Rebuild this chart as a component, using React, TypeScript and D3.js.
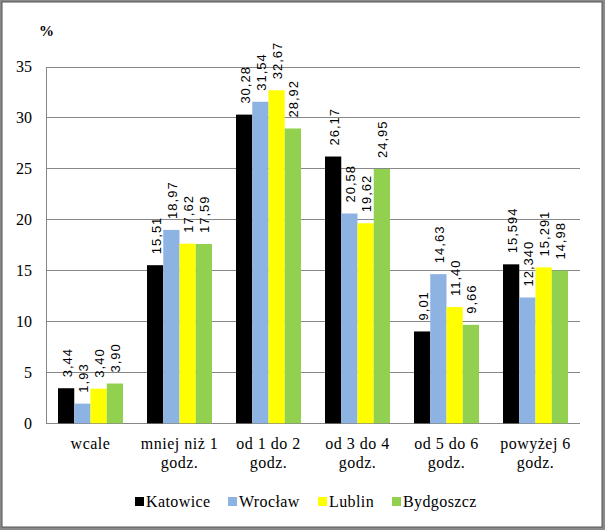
import React from "react";
import * as d3 from "d3";

const categories = [["wcale"], ["mniej niż 1", "godz."], ["od 1 do 2", "godz."], ["od 3 do 4", "godz."], ["od 5 do 6", "godz."], ["powyżej 6", "godz."]];
const seriesNames = ["Katowice", "Wrocław", "Lublin", "Bydgoszcz"];
const seriesColors = ["#000000", "#8DB3E2", "#FFFF00", "#92D050"];
const katowice = ["3,44", "15,51", "30,28", "26,17", "9,01", "15,594"];
const wroclaw = ["1,93", "18,97", "31,54", "20,58", "14,63", "12,340"];
const lublin = ["3,40", "17,62", "32,67", "19,62", "11,40", "15,291"];
const bydgoszcz = ["3,90", "17,59", "28,92", "24,95", "9,66", "14,98"];
const yTicks = [0, 5, 10, 15, 20, 25, 30, 35];

const W = 605, H = 530;
const legendX = [135, 228, 318, 392];

export default function App() {
  const series = [katowice, wroclaw, lublin, bydgoszcz];
  const parse = (s: string) => +s.replace(",", ".");
  const left = 46, right = 580, top = 66.5, bottom = 423.3;
  const y = d3.scaleLinear().domain([0, 35]).range([bottom, top]);
  const x0 = d3.scaleBand<number>().domain(d3.range(categories.length)).range([left, right]);
  const x1 = d3.scaleBand<number>().domain(d3.range(series.length)).range([12, x0.bandwidth() - 12]);
  const bw = x1.bandwidth();

  return (
    <svg width={W} height={H} style={{ position: "absolute", left: 0, top: 0 }}>
      <style>{`
        .serif { font-family: "Liberation Serif", "Times New Roman", Tinos, serif; }
        .sans { font-family: "Liberation Sans", Arial, sans-serif; }
      `}</style>
      <rect x={0} y={0} width={W} height={H} fill="#8a8a8a" />
      <rect x={2} y={2} width={W - 5} height={H - 5} fill="#ffffff" stroke="#555" strokeWidth={1} />
      {yTicks.map(t => (
        <line key={"g" + t} x1={left} x2={right} y1={Math.round(y(t)) + 0.5} y2={Math.round(y(t)) + 0.5} stroke="#878787" />
      ))}
      <line x1={left + 0.5} x2={left + 0.5} y1={Math.round(y(35)) + 0.5} y2={Math.round(y(0)) + 0.5} stroke="#878787" />
      {yTicks.map(t => (
        <text key={"t" + t} className="serif" x={32} y={y(t)} dy="0.35em" textAnchor="end" fontSize={16}>{t}</text>
      ))}
      <text className="serif" x={39} y={36} fontWeight="bold" fontSize={15}>%</text>
      {series.map((s, si) =>
        s.map((lab, ci) => {
          const v = parse(lab);
          const bx = x0(ci)! + x1(si)!;
          return (
            <g key={si + "-" + ci}>
              <rect x={bx} y={y(v)} width={bw} height={y(0) - y(v)} fill={seriesColors[si]} />
              <text className="sans" transform={`translate(${bx + bw / 2 + 1},${y(v) - 11}) rotate(-90)`} dy="0.35em"
                fontSize={13} letterSpacing={1}>{lab}</text>
            </g>
          );
        })
      )}
      {categories.map((lines, ci) => lines.map((ln, li) => (
        <text key={ci + "c" + li} className="serif" x={x0(ci)! + x0.bandwidth() / 2} y={449 + li * 19} textAnchor="middle"
          fontSize={16} letterSpacing={0.5}>{ln}</text>
      )))}
      {seriesNames.map((name, si) => (
        <g key={name}>
          <rect x={legendX[si]} y={497} width={9} height={9} fill={seriesColors[si]} />
          <text className="serif" x={legendX[si] + 11} y={507} fontSize={16} letterSpacing={0.4}>{name}</text>
        </g>
      ))}
    </svg>
  );
}
